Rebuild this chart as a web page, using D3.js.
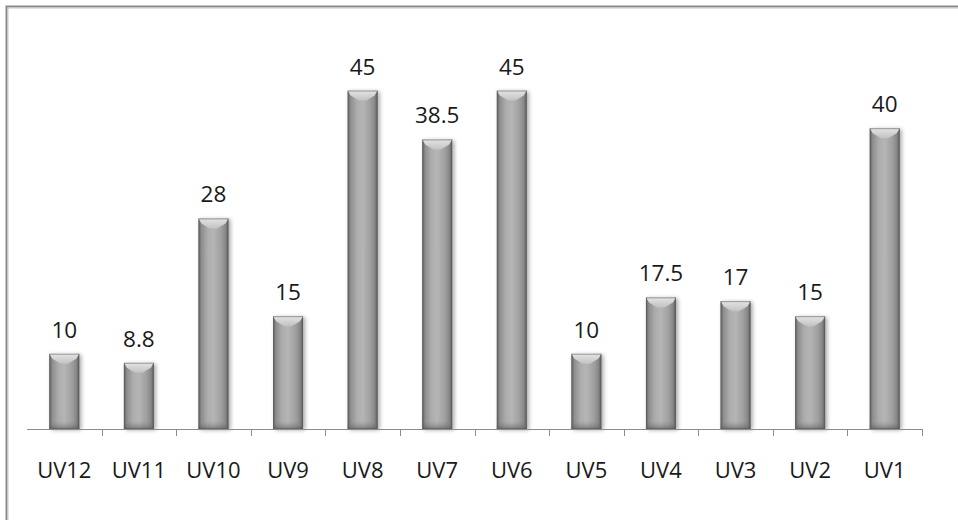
<!DOCTYPE html>
<html>
<head>
<meta charset="utf-8">
<script src="https://cdn.jsdelivr.net/npm/d3@7/dist/d3.min.js"></script>
<style>
  html, body { margin: 0; padding: 0; background: #fff; }
  svg { display: block; }
  text { font-family: "Open Sans", Lato, "Liberation Sans", sans-serif; fill: #1a1a1a; }
</style>
</head>
<body>
<svg id="chart" width="958" height="520"></svg>
<script>
// Category labels in drawing order (left to right)
const categories = ["UV12", "UV11", "UV10", "UV9", "UV8", "UV7", "UV6", "UV5", "UV4", "UV3", "UV2", "UV1"];
// Bar values
const values = [10, 8.8, 28, 15, 45, 38.5, 45, 10, 17.5, 17, 15, 40];
// Value labels printed above each bar
const valueLabels = ["10", "8.8", "28", "15", "45", "38.5", "45", "10", "17.5", "17", "15", "40"];
const yDomain = [0, 50];

const svg = d3.select("#chart");
const W = 958, H = 520;

// Outer frame (only top and left edges are visible in the window)
svg.append("rect").attr("x", 6.5).attr("y", 6.5).attr("width", W + 20).attr("height", H + 20)
  .attr("fill", "none").attr("stroke", "#8a8a8a").attr("stroke-width", 2);
svg.append("rect").attr("x", 8).attr("y", 8).attr("width", W + 20).attr("height", H + 20)
  .attr("fill", "none").attr("stroke", "#c8c8c8").attr("stroke-width", 1);

const plot = { left: 27, right: 922, top: 53, bottom: 429 };

const x = d3.scaleBand().domain(categories).range([plot.left, plot.right]).paddingInner(0).paddingOuter(0);
const y = d3.scaleLinear().domain(yDomain).range([plot.bottom, plot.top]);
const barW = 30;

const defs = svg.append("defs");
const body = defs.append("linearGradient").attr("id", "barBody").attr("x1", "0").attr("x2", "1").attr("y1", "0").attr("y2", "0");
[[0, "#5e5e5e"], [0.1, "#8e8e8e"], [0.3, "#acacac"], [0.5, "#b5b5b5"], [0.75, "#a0a0a0"], [0.9, "#888888"], [1, "#5a5a5a"]]
  .forEach(([o, c]) => body.append("stop").attr("offset", o).attr("stop-color", c));
const topG = defs.append("linearGradient").attr("id", "barTop").attr("x1", "0").attr("x2", "0").attr("y1", "0").attr("y2", "1");
[[0, "#e4e4e4"], [1, "#c2c2c2"]].forEach(([o, c]) => topG.append("stop").attr("offset", o).attr("stop-color", c));
const botG = defs.append("linearGradient").attr("id", "barBot").attr("x1", "0").attr("x2", "0").attr("y1", "0").attr("y2", "1");
[[0, "#808080", 0], [1, "#555555", 0.6]].forEach(([o, c, a]) => botG.append("stop").attr("offset", o).attr("stop-color", c).attr("stop-opacity", a));
const sh = defs.append("filter").attr("id", "shadow").attr("x", "-50%").attr("y", "-10%").attr("width", "200%").attr("height", "120%");
sh.append("feGaussianBlur").attr("in", "SourceAlpha").attr("stdDeviation", 2.2).attr("result", "b");
sh.append("feOffset").attr("in", "b").attr("dx", 2).attr("dy", 1).attr("result", "o");
sh.append("feComponentTransfer").attr("in", "o").attr("result", "s")
  .append("feFuncA").attr("type", "linear").attr("slope", 0.35);
const m = sh.append("feMerge");
m.append("feMergeNode").attr("in", "s");
m.append("feMergeNode").attr("in", "SourceGraphic");

const data = categories.map((c, i) => ({ c, v: values[i], label: valueLabels[i] }));

const bars = svg.append("g").selectAll("g").data(data).join("g")
  .attr("transform", d => `translate(${x(d.c) + x.bandwidth() / 2 - barW / 2},0)`);

bars.append("rect")
  .attr("x", 0).attr("y", d => y(d.v)).attr("width", barW).attr("height", d => y(0) - y(d.v))
  .attr("fill", "url(#barBody)").attr("filter", "url(#shadow)");
// darker bottom bevel
bars.append("rect")
  .attr("x", 0).attr("y", y(0) - 8).attr("width", barW).attr("height", 8)
  .attr("fill", "url(#barBot)");
// chevron-shaped top bevel: light band across the top that dips to the middle
bars.append("path")
  .attr("d", d => {
    const t = y(d.v);
    return `M0,${t}L${barW},${t}L${barW - 3},${t + 5}L${barW * 0.62},${t + 10}L${barW * 0.38},${t + 10}L3,${t + 5}Z`;
  })
  .attr("fill", "url(#barTop)");
bars.append("rect")
  .attr("x", 0.5).attr("y", d => y(d.v) + 0.5).attr("width", barW - 1).attr("height", d => y(0) - y(d.v) - 1)
  .attr("fill", "none").attr("stroke", "#5a5a5a").attr("stroke-opacity", 0.5);

// value labels
svg.append("g").selectAll("text").data(data).join("text")
  .attr("x", d => x(d.c) + x.bandwidth() / 2)
  .attr("y", d => y(d.v) - 16)
  .attr("text-anchor", "middle")
  .attr("font-size", 22.5)
  .text(d => d.label);

// category axis with ticks between categories
const axisG = svg.append("g");
axisG.append("line").attr("x1", plot.left).attr("x2", plot.right).attr("y1", plot.bottom + 0.5).attr("y2", plot.bottom + 0.5)
  .attr("stroke", "#8c8c8c").attr("stroke-width", 1);
const tickXs = categories.map(c => x(c)).concat([plot.right]).slice(1);
axisG.selectAll("line.tick").data(tickXs).join("line").attr("class", "tick")
  .attr("x1", d => Math.round(d) + 0.5).attr("x2", d => Math.round(d) + 0.5)
  .attr("y1", plot.bottom).attr("y2", plot.bottom + 7)
  .attr("stroke", "#8c8c8c");
axisG.selectAll("text").data(categories).join("text")
  .attr("x", c => x(c) + x.bandwidth() / 2)
  .attr("y", 478)
  .attr("text-anchor", "middle")
  .attr("font-size", 22)
  .text(c => c);
</script>
</body>
</html>
